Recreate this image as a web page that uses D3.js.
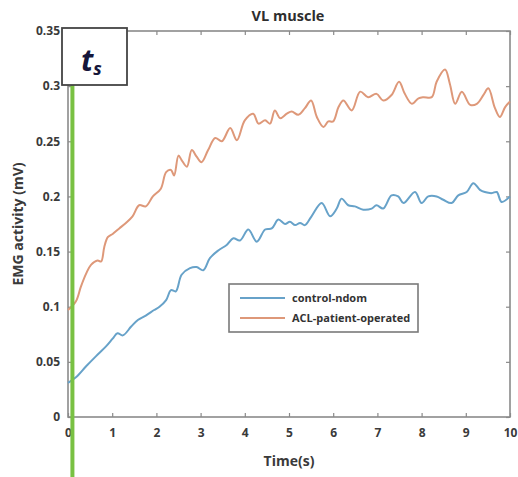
<!DOCTYPE html>
<html>
<head>
<meta charset="utf-8">
<script src="https://cdn.jsdelivr.net/npm/d3@7"></script>
<style>
  html, body { margin: 0; padding: 0; background: #fff; }
  svg { display: block; }
  text { font-family: "Open Sans", Lato, sans-serif; }
</style>
</head>
<body>
<svg id="chart" width="518" height="477"></svg>
<script>
// EMG activity of the VL muscle over the first 10 s
const chartTitle = "VL muscle";
const xLabel = "Time(s)";
const yLabel = "EMG activity (mV)";
const seriesNames = ["control-ndom", "ACL-patient-operated"];

const xTicks = [0, 1, 2, 3, 4, 5, 6, 7, 8, 9, 10];
const yTicks = [0, 0.05, 0.1, 0.15, 0.2, 0.25, 0.3, 0.35];

// control-ndom
const timeControl = [0, 0.18, 0.41, 0.63, 0.86, 1.01, 1.12, 1.24, 1.43, 1.58, 1.76, 1.95, 2.07, 2.22, 2.33, 2.44, 2.57,
  2.76, 2.91, 3.06, 3.21, 3.40, 3.59, 3.74, 3.89, 4.08, 4.27, 4.46, 4.61, 4.76, 4.91, 5.02, 5.14, 5.25, 5.36, 5.51,
  5.74, 5.93, 6.08, 6.19, 6.34, 6.49, 6.68, 6.87, 6.98, 7.13, 7.32, 7.47, 7.59, 7.85, 8.00, 8.15, 8.34, 8.49, 8.68,
  8.83, 9.02, 9.17, 9.32, 9.43, 9.59, 9.70, 9.81, 10.0];
const emgControl = [0.031, 0.036, 0.046, 0.055, 0.064, 0.071, 0.076, 0.074, 0.082, 0.088, 0.092, 0.097, 0.100, 0.106, 0.115, 0.114, 0.129,
  0.135, 0.136, 0.133, 0.144, 0.151, 0.156, 0.162, 0.160, 0.170, 0.159, 0.170, 0.171, 0.179, 0.175, 0.177, 0.174, 0.176, 0.174, 0.182,
  0.194, 0.182, 0.189, 0.198, 0.192, 0.191, 0.188, 0.189, 0.192, 0.189, 0.201, 0.200, 0.194, 0.204, 0.194, 0.200, 0.200, 0.197, 0.194,
  0.201, 0.204, 0.212, 0.206, 0.204, 0.203, 0.204, 0.195, 0.200];

// ACL-patient-operated
const timeACL = [0, 0.18, 0.29, 0.41, 0.52, 0.67, 0.75, 0.82, 0.90, 1.01, 1.16, 1.31, 1.46, 1.61, 1.76, 1.92, 2.10, 2.22,
  2.33, 2.40, 2.50, 2.57, 2.69, 2.80, 2.91, 3.02, 3.17, 3.33, 3.48, 3.67, 3.82, 4.00, 4.19, 4.31, 4.46, 4.57, 4.68,
  4.80, 4.95, 5.06, 5.21, 5.36, 5.50, 5.63, 5.78, 5.89, 6.00, 6.12, 6.23, 6.42, 6.61, 6.79, 6.98, 7.13, 7.32, 7.49,
  7.62, 7.78, 7.93, 8.04, 8.23, 8.34, 8.53, 8.64, 8.76, 8.91, 9.10, 9.25, 9.40, 9.51, 9.66, 9.77, 9.89, 10.0];
const emgACL = [0.097, 0.105, 0.118, 0.130, 0.138, 0.142, 0.141, 0.154, 0.163, 0.166, 0.171, 0.176, 0.182, 0.192, 0.191, 0.200, 0.207, 0.222,
  0.224, 0.219, 0.237, 0.233, 0.227, 0.242, 0.236, 0.231, 0.242, 0.253, 0.250, 0.262, 0.251, 0.269, 0.275, 0.266, 0.269, 0.266, 0.278,
  0.271, 0.275, 0.277, 0.274, 0.280, 0.287, 0.272, 0.263, 0.268, 0.268, 0.281, 0.287, 0.278, 0.295, 0.290, 0.293, 0.287, 0.292, 0.304,
  0.293, 0.284, 0.289, 0.290, 0.290, 0.304, 0.315, 0.302, 0.284, 0.295, 0.283, 0.284, 0.292, 0.298, 0.280, 0.272, 0.281, 0.286];

const colors = ["#67a2c9", "#de9879"];

const svg = d3.select("#chart");
const plot = { left: 68, right: 510, top: 31, bottom: 417 };

const x = d3.scaleLinear().domain([0, 10]).range([plot.left, plot.right]);
const y = d3.scaleLinear().domain([0, 0.35]).range([plot.bottom, plot.top]);

const axisColor = "#8a8a8a";
const labelColor = "#3a3a3a";

// frame
svg.append("rect")
  .attr("x", plot.left).attr("y", plot.top)
  .attr("width", plot.right - plot.left).attr("height", plot.bottom - plot.top)
  .attr("fill", "none").attr("stroke", axisColor).attr("stroke-width", 1.6);

function styleAxis(g, showLabels) {
  g.select(".domain").remove();
  g.selectAll(".tick line").attr("stroke", axisColor).attr("stroke-width", 1.2);
  g.selectAll(".tick text")
    .attr("fill", labelColor)
    .attr("font-size", 12)
    .attr("font-weight", "bold")
    .style("display", showLabels ? null : "none");
}

const fmtY = d => d === 0 ? "0" : d3.format("")(+d.toFixed(2));

svg.append("g").attr("transform", `translate(0,${plot.bottom})`)
  .call(d3.axisBottom(x).tickValues(xTicks).tickSize(-4).tickPadding(11).tickFormat(d3.format("d")))
  .call(g => styleAxis(g, true));
svg.append("g").attr("transform", `translate(0,${plot.top})`)
  .call(d3.axisTop(x).tickValues(xTicks).tickSize(-4).tickFormat(""))
  .call(g => styleAxis(g, false));
svg.append("g").attr("transform", `translate(${plot.left},0)`)
  .call(d3.axisLeft(y).tickValues(yTicks).tickSize(-4).tickPadding(8).tickFormat(fmtY))
  .call(g => styleAxis(g, true));
svg.append("g").attr("transform", `translate(${plot.right},0)`)
  .call(d3.axisRight(y).tickValues(yTicks).tickSize(-4).tickFormat(""))
  .call(g => styleAxis(g, false));

// series lines
const line = d3.line()
  .x(d => x(d[0]))
  .y(d => y(d[1]))
  .curve(d3.curveCatmullRom.alpha(0.5));

const series = [
  { name: seriesNames[0], pts: d3.zip(timeControl, emgControl), color: colors[0] },
  { name: seriesNames[1], pts: d3.zip(timeACL, emgACL), color: colors[1] }
];

series.forEach(s => {
  svg.append("path")
    .datum(s.pts)
    .attr("d", line)
    .attr("fill", "none")
    .attr("stroke", s.color)
    .attr("stroke-width", 2)
    .attr("stroke-linejoin", "round");
});

// titles
svg.append("text")
  .attr("x", 288).attr("y", 21)
  .attr("text-anchor", "middle")
  .attr("font-size", 14.5).attr("font-weight", "bold")
  .attr("fill", "#2e2e2e")
  .text(chartTitle);

svg.append("text")
  .attr("x", 289).attr("y", 466)
  .attr("text-anchor", "middle")
  .attr("font-size", 14).attr("font-weight", "bold")
  .attr("fill", labelColor)
  .text(xLabel);

svg.append("text")
  .attr("transform", `translate(23,${(plot.top + plot.bottom) / 2}) rotate(-90)`)
  .attr("text-anchor", "middle")
  .attr("font-size", 14).attr("font-weight", "bold")
  .attr("fill", labelColor)
  .text(yLabel);

// legend
const legend = svg.append("g");
legend.append("rect")
  .attr("x", 229).attr("y", 284).attr("width", 189).attr("height", 48)
  .attr("fill", "#fff").attr("stroke", "#7a7a7a").attr("stroke-width", 1.6);
series.forEach((s, i) => {
  const ly = 298 + i * 20;
  legend.append("line")
    .attr("x1", 240).attr("x2", 285).attr("y1", ly).attr("y2", ly)
    .attr("stroke", s.color).attr("stroke-width", 2);
  legend.append("text")
    .attr("x", 292).attr("y", ly + 4)
    .attr("font-size", 11).attr("font-weight", "bold")
    .attr("fill", "#333")
    .text(s.name);
});

// onset marker t_s
svg.append("line")
  .attr("x1", x(0.1)).attr("x2", x(0.1))
  .attr("y1", 85).attr("y2", 477)
  .attr("stroke", "#79c143").attr("stroke-width", 4);

const marker = svg.append("g");
marker.append("rect")
  .attr("x", 62).attr("y", 28).attr("width", 65).attr("height", 57)
  .attr("fill", "#fff").attr("stroke", "#444").attr("stroke-width", 1.8);
const ts = marker.append("text")
  .attr("x", 81).attr("y", 71)
  .attr("font-family", "'Liberation Serif', 'DejaVu Serif', serif")
  .attr("font-style", "italic").attr("font-weight", "bold")
  .attr("fill", "#15163a")
  .attr("font-size", 30);
ts.append("tspan").text("t");
ts.append("tspan").attr("font-size", 18).attr("dy", 4).text("s");
</script>
</body>
</html>
